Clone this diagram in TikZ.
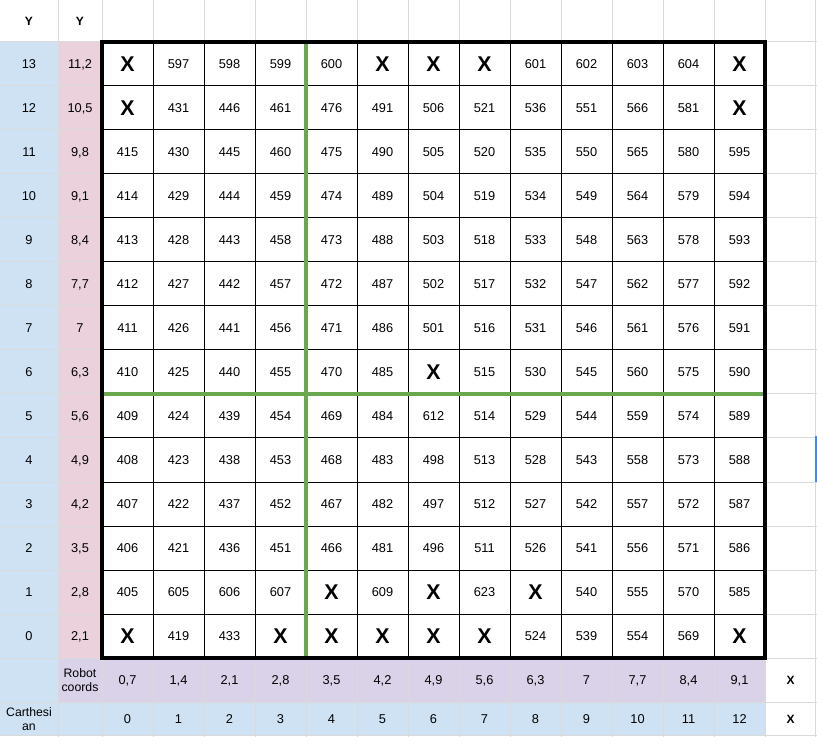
\documentclass[tikz,border=0pt]{standalone}
\usepackage{fontspec}
\setmainfont{Liberation Sans}
\definecolor{cartblue}{HTML}{CFE2F3}
\definecolor{robotpink}{HTML}{EAD1DC}
\definecolor{robotlilac}{HTML}{D9D2E9}
\definecolor{gridgray}{HTML}{DADADA}
\definecolor{quadgreen}{HTML}{6AA84F}
\definecolor{selblue}{HTML}{4A86E8}
\newcommand{\xcell}{{\fontsize{16}{16}\selectfont\bfseries X}}
\begin{document}
\begin{tikzpicture}[x=0.75pt,y=-0.75pt]
    \tikzset{
        cellnum/.style = {inner sep=0pt, text depth=0pt, font=\fontsize{9.6}{12}\selectfont},
        headtext/.style = {inner sep=0pt, text depth=0pt, font=\fontsize{9}{11}\selectfont\bfseries},
        wraptext/.style = {inner sep=0pt, align=center, font=\fontsize{9.2}{10}\selectfont},
        sheetline/.style = {draw=gridgray, line width=0.75pt},
        cellline/.style = {draw=black, line width=0.75pt},
        quadline/.style = {draw=quadgreen, line width=2.6pt},
    }
    \useasboundingbox (0,0) rectangle (817,737);
    \fill[white] (0,0) rectangle (817,737);
    \fill[cartblue] (0,42) rectangle (58,735);
    \fill[robotpink] (58,42) rectangle (102,658);
    \fill[robotlilac] (58,658) rectangle (765,702);
    \fill[cartblue] (58,702) rectangle (765,735);
    \foreach \gx in {58,102,153,204,255,306,357,408,459,510,561,612,663,714,765,815}
        \draw[sheetline] (\gx,0) -- (\gx,737);
    \foreach \gy in {42,86,130,174,218,262,306,350,394,438,482,526,570,614,658,702,735}
        \draw[sheetline] (0,\gy) -- (817,\gy);
    \foreach \k in {1,...,12}
        \draw[cellline] (102+51*\k,42) -- (102+51*\k,658);
    \foreach \k in {1,...,13}
        \draw[cellline] (102,42+44*\k) -- (765,42+44*\k);
    \draw[quadline] (306,42) -- (306,658);
    \draw[quadline] (102,394) -- (765,394);
    \draw[line width=2.4pt] (102,42) rectangle (765,658);
    \draw[selblue, line width=1.5pt] (819,437) -- (816,437) -- (816,481) -- (819,481);

    \node[headtext] (yaxis) at (29,21) {Y};
    \node[headtext] (yrobot) at (80,21) {Y};

    \foreach \yc/\yr [count=\r from 0] in {13/{11,2},12/{10,5},11/{9,8},10/{9,1},9/{8,4},8/{7,7},7/{7},6/{6,3},5/{5,6},4/{4,9},3/{4,2},2/{3,5},1/{2,8},0/{2,1}} {
        \node[cellnum] (yc-\r) at (29,64+44*\r) {\yc};
        \node[cellnum] (yr-\r) at (80,64+44*\r) {\yr};
    }

    \foreach \vals [count=\r from 0] in {
            {\xcell,597,598,599,600,\xcell,\xcell,\xcell,601,602,603,604,\xcell},
            {\xcell,431,446,461,476,491,506,521,536,551,566,581,\xcell},
            {415,430,445,460,475,490,505,520,535,550,565,580,595},
            {414,429,444,459,474,489,504,519,534,549,564,579,594},
            {413,428,443,458,473,488,503,518,533,548,563,578,593},
            {412,427,442,457,472,487,502,517,532,547,562,577,592},
            {411,426,441,456,471,486,501,516,531,546,561,576,591},
            {410,425,440,455,470,485,\xcell,515,530,545,560,575,590},
            {409,424,439,454,469,484,612,514,529,544,559,574,589},
            {408,423,438,453,468,483,498,513,528,543,558,573,588},
            {407,422,437,452,467,482,497,512,527,542,557,572,587},
            {406,421,436,451,466,481,496,511,526,541,556,571,586},
            {405,605,606,607,\xcell,609,\xcell,623,\xcell,540,555,570,585},
            {\xcell,419,433,\xcell,\xcell,\xcell,\xcell,\xcell,524,539,554,569,\xcell}} {
        \foreach \v [count=\c from 0] in \vals
            \node[cellnum] (d-\r-\c) at (127.5+51*\c,64+44*\r) {\v};
    }

    \node[wraptext] (robotlbl) at (80,680) {Robot\\coords};
    \node[wraptext] (cartlbl) at (29,719) {Carthesi\\an};
    \foreach \rx [count=\c from 0] in {{0,7},{1,4},{2,1},{2,8},{3,5},{4,2},{4,9},{5,6},{6,3},{7},{7,7},{8,4},{9,1}} {
        \node[cellnum] (rx-\c) at (127.5+51*\c,680) {\rx};
        \node[cellnum] (cx-\c) at (127.5+51*\c,719) {\c};
    }
    \node[headtext] (xrobot) at (790.5,680) {X};
    \node[headtext] (xcart) at (790.5,719) {X};
\end{tikzpicture}
\end{document}
